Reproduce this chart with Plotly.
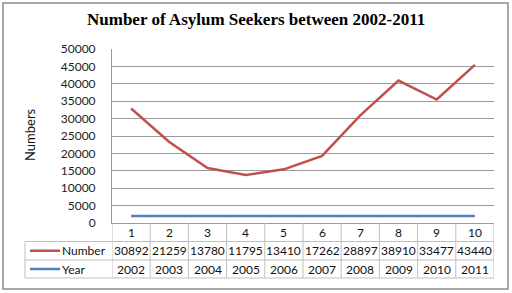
import plotly.graph_objects as go

categories = [1, 2, 3, 4, 5, 6, 7, 8, 9, 10]
number_vals = [30892, 21259, 13780, 11795, 13410, 17262, 28897, 38910, 33477, 43440]
year_vals = [2002, 2003, 2004, 2005, 2006, 2007, 2008, 2009, 2010, 2011]
series_names = ["Number", "Year"]
colors = {"Number": "#C0504D", "Year": "#4F81BD"}

W, H = 512, 293
L, R, T, B = 112, 18, 49, 70
pw, ph = W - L - R, H - T - B

def px(x):
    return (x - L) / pw

def py(y):
    return (H - B - y) / ph

FONT = "Lato, 'Open Sans', sans-serif"

fig = go.Figure()
# stacked line chart (Year at the bottom, Number stacked on it)
fig.add_trace(go.Scatter(x=categories, y=year_vals, name="Year", mode="lines",
                         stackgroup="one", fill="none",
                         line=dict(color=colors["Year"], width=2.5)))
fig.add_trace(go.Scatter(x=categories, y=number_vals, name="Number", mode="lines",
                         stackgroup="one", fill="none",
                         line=dict(color=colors["Number"], width=2.5)))

shapes = []
ann = []
grid_col = "#9A9A9A"
tbl_col = "#BFBFBF"

row_top = H - B          # 223
row1 = 241.5
row2 = 260
row3 = 278
for yy, x0 in [(row1, 25), (row2, 25), (row3, 25)]:
    shapes.append(dict(type="line", xref="paper", yref="paper", x0=px(x0), x1=1,
                       y0=py(yy), y1=py(yy), line=dict(color=tbl_col, width=1)))
shapes.append(dict(type="line", xref="paper", yref="paper", x0=px(25), x1=px(25),
                   y0=py(row1), y1=py(row3), line=dict(color=tbl_col, width=1)))
for i in range(len(categories) + 1):
    xv = categories[0] - 0.5 + i
    shapes.append(dict(type="line", xref="x", yref="paper", x0=xv, x1=xv,
                       y0=py(row_top), y1=py(row3), line=dict(color=tbl_col, width=1)))
shapes.append(dict(type="rect", xref="paper", yref="paper", x0=px(3), x1=px(508),
                   y0=py(289), y1=py(3), line=dict(color="#8C8C8C", width=1.5)))

rows = [(categories, (row_top + row1) / 2), (number_vals, (row1 + row2) / 2), (year_vals, (row2 + row3) / 2)]
for vals, yc in rows:
    for c, v in zip(categories, vals):
        ann.append(dict(x=c, y=py(yc), xref="x", yref="paper", text=str(v), showarrow=False,
                        font=dict(family=FONT, size=12, color="#111111"), xanchor="center", yanchor="middle"))
for name, yc in [("Number", (row1 + row2) / 2), ("Year", (row2 + row3) / 2)]:
    shapes.append(dict(type="line", xref="paper", yref="paper", x0=px(30), x1=px(60),
                       y0=py(yc), y1=py(yc), line=dict(color=colors[name], width=2.5)))
    ann.append(dict(x=px(60), y=py(yc), xref="paper", yref="paper", text=name, showarrow=False,
                    font=dict(family=FONT, size=12, color="#111111"), xanchor="left", yanchor="middle"))

ann.append(dict(x=px(256), y=py(20), xref="paper", yref="paper",
                text="<b>Number of Asylum Seekers between 2002-2011</b>", showarrow=False,
                font=dict(family="'Liberation Serif', 'Times New Roman', serif", size=17, color="#000000"),
                xanchor="center", yanchor="middle"))
ann.append(dict(x=px(30), y=py(135), xref="paper", yref="paper", text="Numbers", textangle=-90,
                showarrow=False, font=dict(family=FONT, size=13, color="#111111"),
                xanchor="center", yanchor="middle"))

fig.update_layout(
    width=W, height=H,
    margin=dict(l=L, r=R, t=T, b=B, pad=0),
    paper_bgcolor="white", plot_bgcolor="white",
    showlegend=False,
    shapes=shapes, annotations=ann,
    xaxis=dict(range=[0.5, 10.5], showticklabels=False, showgrid=False, zeroline=False,
               showline=True, linecolor=grid_col, linewidth=1, fixedrange=True),
    yaxis=dict(range=[0, 50000], dtick=5000, showgrid=True, gridcolor=grid_col, gridwidth=1,
               zeroline=False, showline=True, linecolor=grid_col, linewidth=1,
               ticklabelstandoff=13,
               tickfont=dict(family=FONT, size=12, color="#222222"), tickformat="d"),
)

fig.write_html("out.html")
